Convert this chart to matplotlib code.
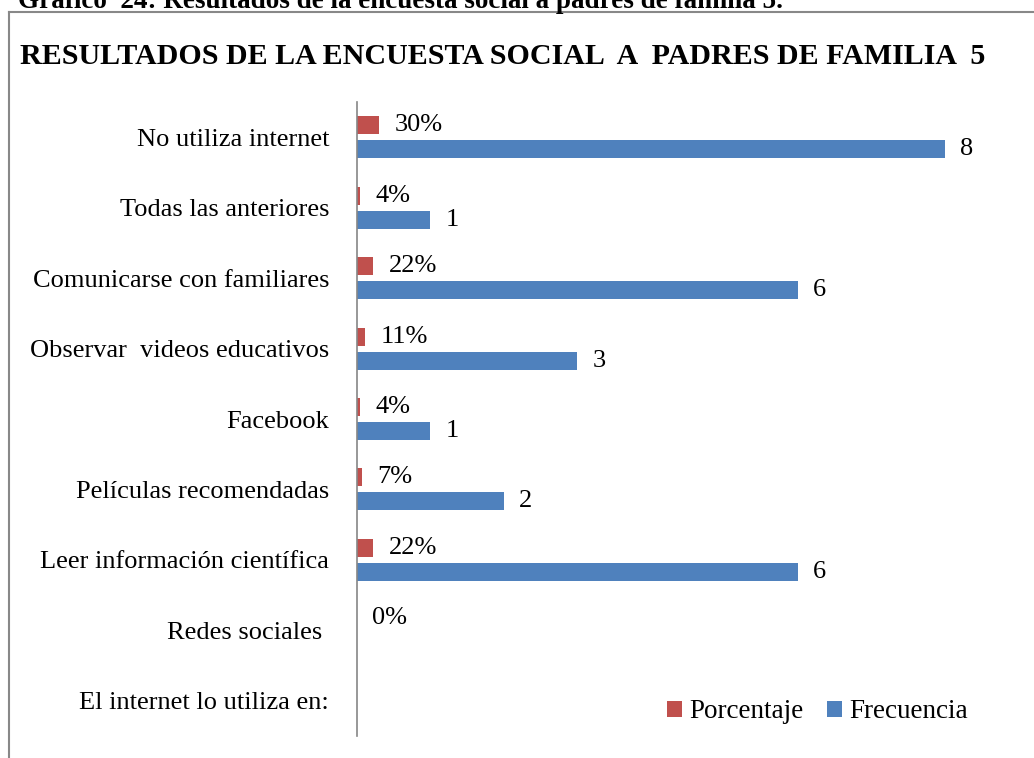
import matplotlib.pyplot as plt
from matplotlib.lines import Line2D
import numpy as np

plt.rcParams['font.family'] = ['Liberation Serif', 'DejaVu Serif']

# categories, top to bottom
categorias = ['No utiliza internet', 'Todas las anteriores', 'Comunicarse con familiares',
              'Observar  videos educativos', 'Facebook', 'Películas recomendadas',
              'Leer información científica', 'Redes sociales ', 'El internet lo utiliza en:']
frecuencia = [8, 1, 6, 3, 1, 2, 6, 0, 0]
porcentaje = [0.30, 0.04, 0.22, 0.11, 0.04, 0.07, 0.22, 0.0, 0.0]
etiq_frec = ['8', '1', '6', '3', '1', '2', '6', '', '']
etiq_porc = ['30%', '4%', '22%', '11%', '4%', '7%', '22%', '0%', '']

rojo = '#C0504D'
azul = '#4F81BD'

fig = plt.figure(figsize=(10.34, 7.58), dpi=100)
ax = fig.add_axes([357 / 1034, 1 - 736 / 758, (1018 - 357) / 1034, (736 - 102) / 758])

y = np.arange(len(categorias))
h = 0.255
b1 = ax.barh(y - 0.17, porcentaje, height=h, color=rojo, label='Porcentaje')
b2 = ax.barh(y + 0.17, frecuencia, height=h, color=azul, label='Frecuencia')
ax.bar_label(b1, labels=etiq_porc, padding=11, fontsize=19)
ax.bar_label(b2, labels=etiq_frec, padding=11, fontsize=19)

ax.set_xlim(0, 9)
ax.set_ylim(len(categorias) - 0.5, -0.5)
ax.set_yticks(y)
ax.set_yticklabels(categorias, fontsize=19)
ax.set_xticks([])
ax.tick_params(axis='y', length=0, pad=20)
for s in ['top', 'right', 'bottom']:
    ax.spines[s].set_visible(False)
ax.spines['left'].set_color('#868686')
ax.spines['left'].set_linewidth(1.2)

ax.legend(loc='center right', bbox_to_anchor=(0.949, 0.061), bbox_transform=fig.transFigure,
          ncol=2, frameon=False, fontsize=19.5, handlelength=0.55, handleheight=0.55,
          handletextpad=0.25, columnspacing=0.9, borderpad=0)

# outer frame of the chart box
fig.add_artist(Line2D([9 / 1034, 9 / 1034], [0, 1 - 12 / 758], color='#888888', lw=1.5,
                      transform=fig.transFigure))
fig.add_artist(Line2D([9 / 1034, 1], [1 - 12 / 758, 1 - 12 / 758], color='#888888', lw=1.5,
                      transform=fig.transFigure))

fig.text(18 / 1034, 1 - 8 / 758, 'Gráfico  24: Resultados de la encuesta social a padres de familia 5.',
         fontsize=19.5, fontweight='bold', va='baseline', ha='left')
fig.text(20 / 1034, 1 - 57 / 758, 'RESULTADOS DE LA ENCUESTA SOCIAL  A  PADRES DE FAMILIA  5',
         fontsize=21.6, fontweight='bold', va='center', ha='left')

fig.savefig('out.png', dpi=100)
